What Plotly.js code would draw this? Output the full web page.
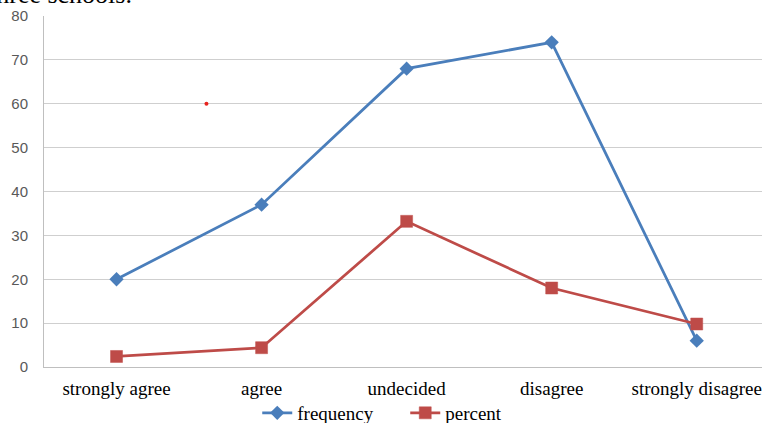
<!DOCTYPE html>
<html>
<head>
<meta charset="utf-8">
<script src="https://cdn.plot.ly/plotly-3.0.1.min.js"></script>
<style>
  html, body { margin: 0; padding: 0; background: #ffffff; }
  #chart { width: 762px; height: 423px; }
</style>
</head>
<body>
<div id="chart"></div>
<script>
// Responses per category
const categories = ["strongly agree", "agree", "undecided", "disagree", "strongly disagree"];
const frequency = [20, 37, 68, 74, 6];
const percent = [2.4, 4.4, 33.2, 18.0, 9.8];
const yTicks = [0, 10, 20, 30, 40, 50, 60, 70, 80];

// a stray red speck sitting on the 60 gridline
const speckX = [0.62];
const speckY = [60];

const xIdx = categories.map((_, i) => i);

const BLUE = "#4A7EBB";
const RED = "#BE4B48";

const traces = [
  {
    x: xIdx, y: frequency, name: "frequency", type: "scatter", mode: "lines+markers",
    line: { color: BLUE, width: 2.75 },
    marker: { symbol: "diamond", size: 11, color: BLUE }
  },
  {
    x: xIdx, y: percent, name: "percent", type: "scatter", mode: "lines+markers",
    line: { color: RED, width: 2.75 },
    marker: { symbol: "square", size: 12, color: RED, line: { color: "#C0504D", width: 0.5 } }
  },
  {
    x: speckX, y: speckY, type: "scatter", mode: "markers", showlegend: false, hoverinfo: "skip",
    marker: { symbol: "circle", size: 4, color: "#E8231E" }
  }
];

const layout = {
  width: 762, height: 423,
  margin: { l: 44, r: 0, t: 16, b: 56, autoexpand: false },
  paper_bgcolor: "#ffffff", plot_bgcolor: "#ffffff",
  showlegend: true,
  legend: {
    orientation: "h", x: 0.297, xanchor: "left", y: -0.131, yanchor: "middle",
    font: { family: "Liberation Serif, Times New Roman, serif", size: 19, color: "#000000" },
    entrywidth: 103, entrywidthmode: "pixels",
    tracegroupgap: 0, bgcolor: "rgba(0,0,0,0)"
  },
  xaxis: {
    range: [-0.5, 4.45],
    tickmode: "array", tickvals: xIdx, ticktext: categories,
    showgrid: false, zeroline: false,
    showline: true, linecolor: "#bfbfbf", linewidth: 1,
    ticks: "", ticklabelstandoff: 4,
    tickfont: { family: "Liberation Serif, Times New Roman, serif", size: 19, color: "#000000" },
    fixedrange: true
  },
  yaxis: {
    range: [0, 80],
    tickmode: "array", tickvals: yTicks,
    showgrid: true, gridcolor: "#cfcfcf", gridwidth: 1,
    zeroline: false,
    showline: true, linecolor: "#bfbfbf", linewidth: 1,
    ticks: "", ticklabelstandoff: 12,
    tickfont: { family: "Liberation Sans, Arial, sans-serif", size: 15, color: "#595959" },
    fixedrange: true
  },
  annotations: [
    {
      text: "three schools.", showarrow: false,
      xref: "paper", yref: "paper", x: (134 - 44) / 718, y: 1.014,
      xanchor: "right", yanchor: "bottom",
      font: { family: "Liberation Serif, Times New Roman, serif", size: 26, color: "#000000" }
    }
  ]
};

Plotly.newPlot("chart", traces, layout, { displayModeBar: false, staticPlot: true });
</script>
</body>
</html>
